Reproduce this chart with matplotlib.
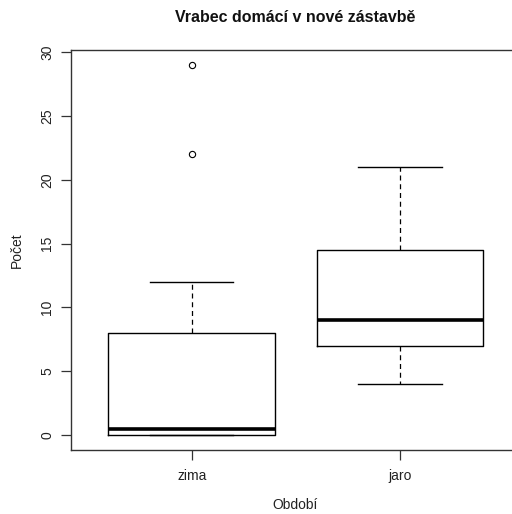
import matplotlib
matplotlib.use("Agg")
import matplotlib.pyplot as plt

plt.rcParams['font.family'] = ['Liberation Sans', 'DejaVu Sans']

categories = ["zima", "jaro"]
whislo = [0, 4]
q1 = [0, 7]
med = [0.5, 9]
q3 = [8, 14.5]
whishi = [12, 21]
fliers = [[22, 29], []]
yticks = [0, 5, 10, 15, 20, 25, 30]

stats = []
for i, c in enumerate(categories):
    stats.append(dict(label=c, whislo=whislo[i], q1=q1[i], med=med[i],
                      q3=q3[i], whishi=whishi[i], fliers=fliers[i]))

fig = plt.figure(figsize=(5.12, 5.14), dpi=100)
ax = fig.add_axes([71/512, 1-450/514, (520.6-71)/512, 400/514])

ax.bxp(stats, positions=[1, 2], widths=0.8, showfliers=True,
       boxprops=dict(color='black', linewidth=1),
       medianprops=dict(color='black', linewidth=2.6, solid_capstyle='butt'),
       whiskerprops=dict(color='black', linewidth=0.9, linestyle=(0, (4, 3))),
       capprops=dict(color='black', linewidth=1),
       capwidths=0.4,
       flierprops=dict(marker='o', markersize=4.5, markerfacecolor='none',
                       markeredgecolor='black', markeredgewidth=0.8))

ax.set_xlim(0.42, 2.58)
ax.set_ylim(-1.16, 30.16)
ax.set_yticks(yticks)
ax.set_yticklabels([str(v) for v in yticks], rotation=90, va='center')
ax.set_xticks([1, 2])
ax.set_xticklabels(categories)
ax.tick_params(axis='both', length=7, width=0.9, labelsize=10, color='#333333',
               labelcolor='#222222', pad=5)
ax.tick_params(axis='x', pad=7)
for s in ax.spines.values():
    s.set_color('#333333')
    s.set_linewidth(1)

fig.text(295/512, 1-18/514, "Vrabec domácí v nové zástavbě", ha='center', va='center',
         fontsize=11.5, fontweight='bold', color='#111111')
fig.text(295/512, 1-505/514, "Období", ha='center', va='center', fontsize=10, color='#222222')
fig.text(17/512, 1-250/514, "Počet", ha='center', va='center', fontsize=10,
         rotation=90, color='#222222')

fig.savefig("out.png", dpi=100)
